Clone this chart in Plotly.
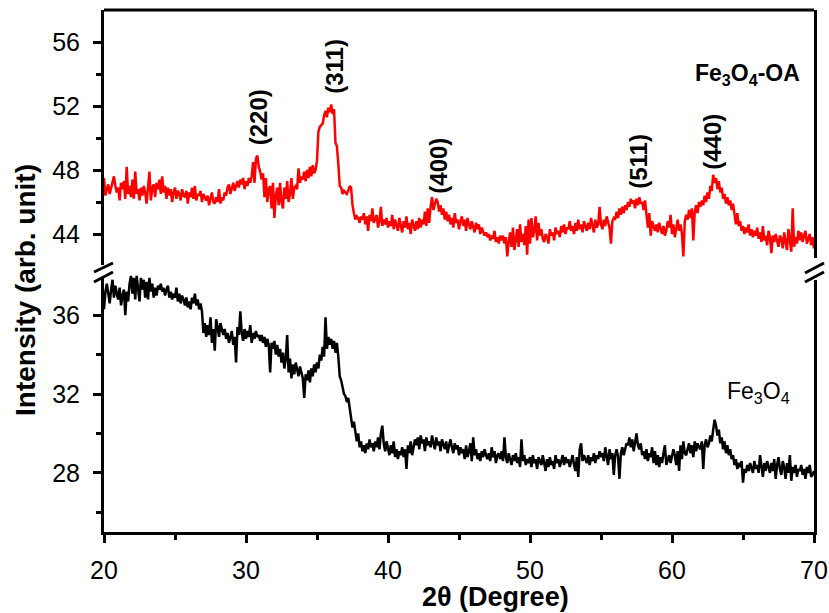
import numpy as np
import plotly.graph_objects as go

# 2theta scan grid, 20.0 .. 70.0 deg, 0.1 deg step
two_theta = np.round(np.arange(200, 701) / 10.0, 1)

# Fe3O4-OA (red, upper panel), one row per degree
fe3o4_oa = [
    47.5, 46.4, 46.8, 47.1, 46.5, 46.9, 47.4, 47.6, 47.0, 46.6,  # 20
    46.9, 46.1, 47.2, 46.8, 47.3, 46.2, 48.2, 46.5, 47.0, 46.3,  # 21
    47.4, 46.2, 47.9, 46.5, 46.8, 46.1, 46.9, 46.4, 47.0, 46.6,  # 22
    45.9, 46.8, 47.9, 46.1, 46.9, 47.1, 46.3, 47.2, 46.8, 47.4,  # 23
    46.5, 47.6, 46.6, 47.0, 46.2, 46.9, 46.4, 46.8, 46.0, 46.6,  # 24
    46.9, 46.2, 46.7, 46.5, 46.1, 46.8, 46.4, 46.3, 46.7, 45.9,  # 25
    46.6, 46.3, 46.9, 46.2, 47.0, 46.1, 46.5, 46.4, 46.7, 46.0,  # 26
    46.5, 46.3, 46.1, 46.4, 45.8, 46.2, 46.6, 46.0, 45.9, 46.3,  # 27
    46.0, 46.8, 45.9, 46.3, 46.1, 46.6, 46.4, 46.9, 47.1, 46.5,  # 28
    46.9, 47.2, 46.7, 47.0, 47.3, 46.9, 47.4, 47.1, 47.5, 46.8,  # 29
    47.3, 47.0, 47.5, 47.2, 47.6, 48.5, 47.2, 48.7, 48.9, 48.2,  # 30
    47.9, 47.4, 47.8, 46.3, 47.5, 46.0, 46.8, 47.0, 45.6, 47.2,  # 31
    45.0, 46.4, 46.9, 45.8, 47.2, 46.0, 45.6, 46.9, 46.2, 47.3,  # 32
    46.0, 46.5, 47.5, 46.2, 46.9, 47.0, 46.8, 48.1, 47.2, 47.6,  # 33
    47.4, 47.9, 47.3, 48.0, 47.5, 48.2, 47.6, 48.3, 47.8, 48.0,  # 34
    48.6, 50.4, 50.7, 50.8, 50.9, 51.4, 51.7, 51.3, 51.9, 51.6,  # 35
    52.1, 51.5, 51.8, 49.7, 49.5, 48.4, 47.0, 46.9, 46.5, 46.7,  # 36
    46.6, 46.5, 46.7, 47.0, 46.9, 45.8, 45.3, 44.9, 45.1, 45.0,  # 37
    44.7, 45.1, 44.9, 45.3, 44.6, 45.1, 44.2, 45.2, 44.8, 45.6,  # 38
    44.7, 45.0, 45.2, 44.4, 44.8, 45.7, 44.5, 44.9, 44.6, 45.0,  # 39
    44.4, 44.8, 44.5, 45.2, 44.3, 44.9, 44.6, 44.2, 45.0, 44.5,  # 40
    44.1, 44.8, 44.4, 45.1, 44.3, 44.7, 44.0, 44.9, 44.5, 44.2,  # 41
    44.8, 44.3, 45.0, 44.4, 44.9, 44.6, 45.4, 44.5, 45.6, 44.7,  # 42
    45.7, 46.3, 45.5, 45.9, 46.2, 46.0, 45.4, 45.8, 45.2, 45.6,  # 43
    44.9, 45.4, 44.8, 45.2, 44.6, 45.0, 44.4, 45.3, 44.7, 44.9,  # 44
    44.3, 44.8, 45.1, 44.5, 44.9, 44.2, 45.0, 44.6, 44.3, 44.8,  # 45
    44.5, 44.1, 44.7, 44.3, 44.6, 44.0, 44.4, 44.2, 43.9, 44.1,  # 46
    43.8, 44.0, 43.6, 43.9, 43.7, 44.2, 43.5, 43.8, 43.4, 43.9,  # 47
    43.6, 43.9, 43.4, 43.8, 42.6, 43.5, 44.1, 43.2, 44.4, 43.0,  # 48
    43.8, 44.3, 43.2, 44.6, 43.5, 44.0, 43.3, 44.5, 42.7, 44.9,  # 49
    43.4, 45.0, 43.8, 44.2, 45.1, 43.6, 44.7, 43.9, 44.3, 43.7,  # 50
    43.5, 44.0, 43.8, 43.4, 44.3, 43.9, 44.1, 43.6, 44.4, 44.0,  # 51
    44.2, 43.8, 44.5, 44.1, 44.6, 44.0, 44.4, 44.3, 44.8, 44.2,  # 52
    44.5, 44.0, 44.7, 44.2, 44.9, 44.3, 44.6, 44.1, 44.8, 44.4,  # 53
    44.2, 44.7, 44.3, 45.0, 44.5, 44.1, 44.9, 44.4, 44.6, 45.7,  # 54
    44.6, 44.3, 44.9, 44.5, 45.1, 44.7, 44.4, 43.4, 44.8, 45.0,  # 55
    44.9, 45.4, 45.0, 45.6, 45.2, 45.7, 45.3, 45.8, 45.5, 46.0,  # 56
    45.7, 46.2, 45.9, 46.1, 45.6, 46.2, 45.8, 46.3, 45.9, 46.0,  # 57
    45.5, 46.1, 45.2, 44.4, 45.3, 43.9, 44.8, 44.5, 44.2, 44.6,  # 58
    44.1, 44.7, 44.3, 44.0, 44.5, 43.9, 44.2, 44.8, 44.4, 45.2,  # 59
    44.0, 44.6, 43.8, 44.3, 44.9, 44.2, 44.6, 44.0, 42.6, 44.8,  # 60
    45.2, 44.9, 45.5, 45.0, 45.6, 43.6, 45.4, 45.8, 45.3, 46.0,  # 61
    45.7, 46.1, 45.8, 46.4, 46.0, 46.6, 46.2, 47.0, 46.7, 47.7,  # 62
    47.2, 47.5, 46.8, 47.3, 46.6, 46.9, 46.2, 46.5, 45.9, 46.3,  # 63
    45.8, 46.1, 45.5, 45.9, 45.2, 44.6, 45.3, 44.5, 44.8, 44.2,  # 64
    44.5, 44.0, 44.4, 44.1, 44.6, 43.9, 44.3, 43.8, 44.2, 43.9,  # 65
    44.4, 43.7, 44.1, 43.5, 44.5, 43.6, 43.9, 43.3, 44.2, 43.8,  # 66
    42.8, 43.9, 43.5, 44.0, 43.6, 43.2, 43.9, 43.7, 43.1, 44.1,  # 67
    43.5, 43.0, 44.3, 43.6, 42.9, 45.6, 43.2, 43.8, 43.4, 44.2,  # 68
    43.6, 44.1, 43.5, 43.9, 44.2, 43.4, 43.7, 44.0, 43.3, 43.8,  # 69
    43.1,                                                        # 70
]

# Fe3O4 (black, lower panel)
fe3o4 = [
    36.3, 37.2, 37.6, 37.0, 36.6, 37.3, 37.8, 36.9, 37.5, 37.1,  # 20
    36.8, 37.4, 36.5, 37.0, 37.3, 36.0, 37.2, 36.7, 37.6, 38.0,  # 21
    37.1, 37.9, 36.8, 38.0, 37.2, 36.7, 37.9, 37.3, 37.8, 36.9,  # 22
    37.7, 36.8, 37.9, 37.2, 37.6, 36.9, 37.4, 37.0, 37.5, 37.3,  # 23
    37.6, 37.2, 37.4, 37.0, 37.3, 37.5, 36.9, 37.2, 36.8, 37.1,  # 24
    36.9, 37.4, 36.7, 37.1, 36.6, 37.0, 36.8, 36.5, 36.9, 36.4,  # 25
    36.7, 36.3, 36.9, 36.6, 37.1, 36.5, 36.8, 36.3, 36.6, 36.2,  # 26
    35.1, 35.6, 34.9, 35.5, 35.0, 35.9, 34.6, 35.3, 34.2, 35.8,  # 27
    35.4, 34.9, 35.6, 35.2, 35.0, 35.3, 34.8, 35.1, 34.6, 34.9,  # 28
    35.2, 34.5, 34.9, 33.6, 35.4, 35.0, 36.2, 35.1, 34.7, 35.3,  # 29
    34.8, 35.2, 34.9, 35.5, 34.6, 35.1, 34.8, 35.2, 34.9, 35.0,  # 30
    34.7, 35.0, 34.6, 34.9, 34.4, 34.8, 34.5, 33.1, 34.6, 34.3,  # 31
    34.7, 34.0, 34.5, 33.9, 34.3, 33.6, 34.1, 33.3, 33.8, 35.0,  # 32
    33.1, 33.8, 32.8, 33.5, 33.0, 33.6, 33.2, 32.9, 33.4, 33.1,  # 33
    32.8, 31.8, 33.0, 32.7, 33.2, 32.6, 33.3, 32.9, 33.5, 33.1,  # 34
    33.6, 33.3, 34.0, 33.7, 34.4, 33.9, 35.9, 34.3, 34.9, 34.5,  # 35
    34.8, 34.3, 34.7, 34.1, 34.6, 33.9, 32.9, 32.7, 32.4, 32.0,  # 36
    31.9, 31.6, 31.8, 31.2, 30.8, 30.3, 30.6, 30.1, 29.6, 30.0,  # 37
    29.3, 29.6, 29.1, 29.4, 29.0, 29.5, 29.2, 29.7, 29.3, 29.5,  # 38
    29.1, 29.6, 29.3, 29.8, 29.2, 30.0, 30.4, 29.5, 29.1, 29.6,  # 39
    29.3, 28.9, 29.4, 29.0, 29.6, 28.8, 29.2, 28.7, 29.1, 28.9,  # 40
    29.3, 28.8, 29.2, 28.2, 29.4, 29.0, 29.6, 28.9, 29.3, 29.7,  # 41
    29.4, 29.8, 29.2, 29.9, 29.5, 29.7, 29.1, 29.8, 29.4, 29.6,  # 42
    29.3, 29.9, 29.5, 29.2, 29.8, 29.4, 29.6, 29.1, 29.7, 29.5,  # 43
    29.2, 29.6, 29.0, 29.4, 29.7, 29.3, 29.0, 29.5, 29.2, 29.4,  # 44
    28.9, 29.3, 29.0, 29.2, 28.7, 29.4, 28.8, 29.1, 29.5, 28.6,  # 45
    29.8, 28.9, 29.2, 28.7, 29.0, 28.6, 29.1, 28.8, 29.2, 28.9,  # 46
    28.7, 29.0, 28.6, 29.3, 28.8, 29.1, 28.5, 28.9, 29.0, 28.7,  # 47
    29.1, 28.6, 29.8, 28.8, 28.5, 29.0, 28.7, 28.4, 28.9, 28.6,  # 48
    29.0, 28.5, 28.8, 28.3, 29.7, 28.6, 28.9, 28.4, 28.7, 28.5,  # 49
    28.8, 28.3, 28.9, 28.5, 28.7, 28.2, 28.8, 28.6, 28.4, 28.9,  # 50
    28.5, 28.1, 28.7, 28.3, 28.8, 28.4, 28.6, 28.2, 28.9, 28.5,  # 51
    28.7, 28.3, 28.6, 28.9, 28.4, 28.8, 28.5, 28.7, 28.3, 28.6,  # 52
    28.9, 28.4, 28.1, 28.8, 27.8, 29.2, 29.5, 28.6, 28.9, 28.7,  # 53
    28.5, 28.9, 28.4, 28.8, 28.6, 29.0, 28.5, 28.9, 28.7, 29.1,  # 54
    28.8, 29.0, 28.6, 29.3, 28.9, 28.4, 29.2, 28.7, 29.0, 27.9,  # 55
    28.9, 29.2, 28.8, 27.7, 29.0, 29.3, 28.9, 29.2, 29.5, 29.4,  # 56
    29.8, 29.3, 29.7, 29.1, 29.6, 30.0, 29.4, 29.2, 29.5, 28.9,  # 57
    29.1, 28.7, 29.2, 28.6, 29.0, 28.8, 29.3, 28.5, 29.1, 28.4,  # 58
    28.9, 28.3, 28.8, 28.5, 29.0, 29.4, 28.4, 28.7, 28.9, 28.5,  # 59
    28.8, 29.2, 28.9, 28.4, 29.1, 28.1, 29.4, 28.7, 29.6, 29.0,  # 60
    28.9, 29.3, 29.5, 29.0, 29.4, 28.8, 29.6, 29.1, 29.5, 29.3,  # 61
    29.2, 29.6, 28.2, 29.4, 29.7, 29.3, 29.5, 29.9, 29.6, 30.2,  # 62
    30.7, 30.4, 29.9, 30.2, 29.5, 29.8, 29.2, 29.6, 29.0, 29.4,  # 63
    28.9, 29.2, 28.7, 28.9, 28.4, 28.7, 28.2, 28.5, 28.3, 28.6,  # 64
    27.5, 28.2, 28.0, 28.4, 28.1, 28.5, 28.3, 28.0, 28.6, 28.2,  # 65
    28.4, 28.0, 28.9, 28.3, 27.8, 28.5, 28.1, 28.6, 28.2, 28.0,  # 66
    28.5, 28.1, 28.7, 27.7, 28.4, 28.8, 28.2, 27.9, 28.6, 28.3,  # 67
    27.7, 28.5, 28.0, 28.9, 27.6, 28.3, 28.0, 28.4, 27.8, 28.2,  # 68
    28.1, 28.4, 27.9, 28.2, 27.7, 28.3, 28.0, 28.4, 27.8, 27.9,  # 69
    28.1,                                                        # 70
]

x_ticks = [20, 30, 40, 50, 60, 70]
y_low_ticks = [28, 32, 36]
y_up_ticks = [44, 48, 52, 56]

peak_labels = ["(220)", "(311)", "(400)", "(511)", "(440)"]
peak_x = [30.85, 36.27, 43.5, 57.65, 62.8]
peak_y = [51.3, 54.45, 48.25, 48.55, 49.75]

FONT = "Liberation Sans, Arial, sans-serif"

# --- layout geometry (pixels) ---
W, H = 829, 613
L, R, T, B = 104, 15, 10, 81
PW, PH = W - L - R, H - T - B


def px(xp):
    return (xp - L) / PW


def py(yp):
    return (H - B - yp) / PH


split = py(266)

fig = go.Figure()
fig.add_trace(go.Scatter(x=two_theta, y=fe3o4, mode="lines",
                         line=dict(color="black", width=2.5),
                         xaxis="x", yaxis="y", showlegend=False))
fig.add_trace(go.Scatter(x=two_theta, y=fe3o4_oa, mode="lines",
                         line=dict(color="#ff0000", width=2.5),
                         xaxis="x", yaxis="y2", showlegend=False))

axis_common = dict(showline=True, linecolor="black", linewidth=3,
                   ticks="outside", ticklen=8, tickwidth=2.5, tickcolor="black",
                   showgrid=False, zeroline=False, automargin=False,
                   tickfont=dict(family=FONT, size=25, color="black"))

fig.update_layout(
    template="none",
    width=W, height=H,
    margin=dict(l=L, r=R, t=T, b=B, autoexpand=False),
    plot_bgcolor="white", paper_bgcolor="white",
    xaxis=dict(range=[20, 70], tickvals=x_ticks, anchor="y",
               ticklabelstandoff=6,
               minor=dict(tickvals=[25, 35, 45, 55, 65], ticklen=5, tickwidth=2.5,
                          tickcolor="black", ticks="outside"),
               **axis_common),
    yaxis=dict(range=[25, 38.5], domain=[0, split], tickvals=y_low_ticks,
               anchor="x", mirror=True, ticklabelstandoff=8,
               minor=dict(tickvals=[26, 30, 34], ticklen=5, tickwidth=2.5,
                          tickcolor="black", ticks="outside"),
               **axis_common),
    yaxis2=dict(range=[42, 58], domain=[split, 1], tickvals=y_up_ticks,
                anchor="x", mirror=True, ticklabelstandoff=8,
                minor=dict(tickvals=[46, 50, 54], ticklen=5, tickwidth=2.5,
                           tickcolor="black", ticks="outside"),
                **axis_common),
)

anns = []
for lab, xv, yv in zip(peak_labels, peak_x, peak_y):
    anns.append(dict(x=xv, y=yv, xref="x", yref="y2", text="<b>%s</b>" % lab,
                     textangle=-90, showarrow=False, xanchor="center", yanchor="middle",
                     font=dict(family=FONT, size=24, color="black")))
anns.append(dict(x=65.3, y=54.0, xref="x", yref="y2",
                 text="<b>Fe<sub>3</sub>O<sub>4</sub>-OA</b>", showarrow=False,
                 xanchor="center", yanchor="middle",
                 font=dict(family=FONT, size=23, color="black")))
anns.append(dict(x=66.1, y=32.1, xref="x", yref="y",
                 text="Fe<sub>3</sub>O<sub>4</sub>", showarrow=False,
                 xanchor="center", yanchor="middle",
                 font=dict(family=FONT, size=23, color="black")))
anns.append(dict(x=px(25), y=py(290), xref="paper", yref="paper",
                 text="<b>Intensity (arb. unit)</b>", textangle=-90, showarrow=False,
                 xanchor="center", yanchor="middle",
                 font=dict(family=FONT, size=28, color="black")))
anns.append(dict(x=px(495), y=py(597), xref="paper", yref="paper",
                 text="<b>2θ (Degree)</b>", showarrow=False,
                 xanchor="center", yanchor="middle",
                 font=dict(family=FONT, size=27, color="black")))
fig.update_layout(annotations=anns)

shapes = []
# top frame
shapes.append(dict(type="line", xref="paper", yref="paper", x0=0, x1=1, y0=1, y1=1,
                   line=dict(color="black", width=3)))
# axis break gaps
shapes.append(dict(type="rect", xref="paper", yref="paper",
                   x0=px(98), x1=px(110), y0=py(278), y1=py(265),
                   fillcolor="white", line=dict(width=0), layer="above"))
shapes.append(dict(type="rect", xref="paper", yref="paper",
                   x0=px(808), x1=px(820), y0=py(280), y1=py(258),
                   fillcolor="white", line=dict(width=0), layer="above"))
# break slashes
for (x0, y0, x1, y1) in [(94, 272, 113, 263), (94, 282, 113, 272),
                         (805, 273, 824, 263), (805, 282, 824, 272)]:
    shapes.append(dict(type="line", xref="paper", yref="paper",
                       x0=px(x0), y0=py(y0), x1=px(x1), y1=py(y1),
                       line=dict(color="black", width=3)))
fig.update_layout(shapes=shapes)

fig.write_html(
    "out.html",
    config={"displayModeBar": False},
    post_script="document.body.style.margin='0';document.body.style.padding='0';"
                "document.documentElement.style.overflow='hidden';",
)
